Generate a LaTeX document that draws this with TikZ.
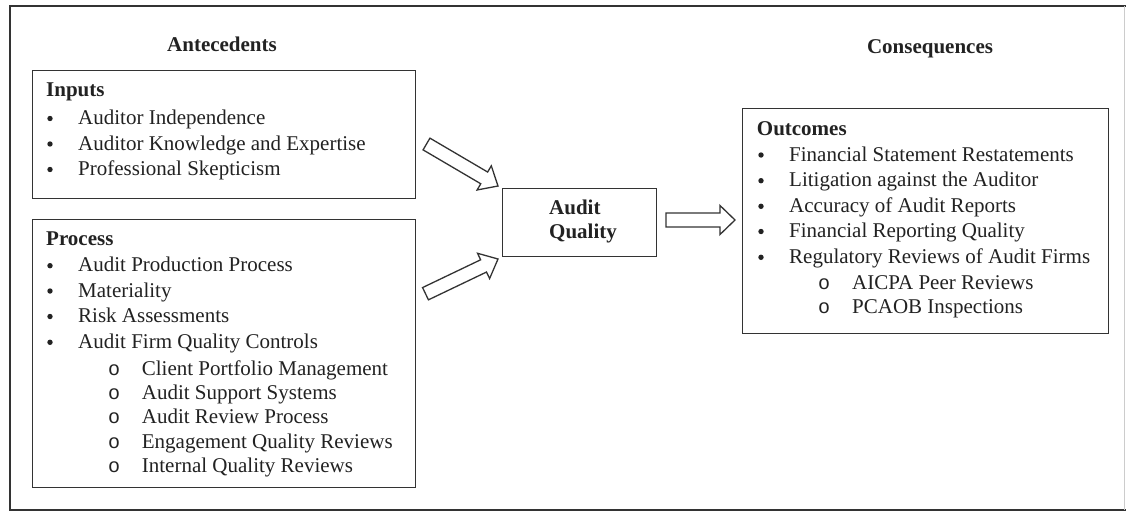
\documentclass[tikz,border=0pt]{standalone}
\usepackage{fontspec}
\setmainfont{Liberation Serif}
\newfontfamily\monof{Liberation Mono}
\usetikzlibrary{calc}
\definecolor{ink}{HTML}{222222}
\definecolor{frame}{HTML}{333333}
\newcommand\blockarr[5]{% tail, tip, shaft half, head half, head length
  \coordinate (H) at ($(#2)!#5!(#1)$);
  \draw[barrow] ($(#1)!#3!90:(#2)$) -- ($(H)!#3!90:(#2)$) -- ($(H)!#4!90:(#2)$) -- (#2)
     -- ($(H)!#4!-90:(#2)$) -- ($(H)!#3!-90:(#2)$) -- ($(#1)!#3!-90:(#2)$) -- cycle;}
\begin{document}
\begin{tikzpicture}[x=1pt,y=-1pt,
  txt/.style={anchor=base west, inner sep=0pt, font=\fontsize{21}{25}\selectfont, text=ink},
  hdr/.style={txt, font=\fontsize{21}{25}\selectfont\bfseries},
  subo/.style={anchor=base west, inner sep=0pt, font=\fontsize{20}{24}\monof, text=ink},
  box/.style={draw=frame, line width=1.3pt, anchor=north west, inner sep=0pt},
  barrow/.style={draw=frame, line width=1.3pt, fill=white, line join=miter},
  dot/.style={fill=ink}]
\useasboundingbox (0,0) rectangle (1126,512);
\fill[white] (0,0) rectangle (1126,512);
% outer frame
\draw[frame, line width=2.6pt] (1126,6) -- (10,6) -- (10,510) -- (1126,510);
\draw[gray!40, line width=0.8pt] (1124,6) -- (1124,510);
% headings
\node[hdr, anchor=base] (ante) at (222,51.7) {Antecedents};
\node[hdr, anchor=base] (cons) at (930,53) {Consequences};
% boxes
\node[box, minimum width=383pt, minimum height=128pt] (inputs) at (32,70) {};
\node[box, minimum width=383pt, minimum height=268pt] (process) at (32,219) {};
\node[box, minimum width=154pt, minimum height=68pt] (aq) at (502,188) {};
\node[box, minimum width=366pt, minimum height=225pt] (outc) at (742,108) {};
% Inputs
\node[hdr] (inT) at (46,96.7) {Inputs};
\foreach \t/\y [count=\i] in {Auditor Independence/124.5, Auditor Knowledge and Expertise/150, Professional Skepticism/175.5}{
  \node[txt] (in\i) at (78,\y) {\t};
  \fill[dot] (50,\y-6) circle (2.7);}
% Process
\node[hdr] (prT) at (46,245.7) {Process};
\foreach \t/\y [count=\i] in {Audit Production Process/271.7, Materiality/297, Risk Assessments/322.5, Audit Firm Quality Controls/348.3}{
  \node[txt] (pr\i) at (78,\y) {\t};
  \fill[dot] (50,\y-6) circle (2.7);}
\foreach \t/\y [count=\i] in {Client Portfolio Management/375, Audit Support Systems/399.4, Audit Review Process/423.8, Engagement Quality Reviews/448.2, Internal Quality Reviews/472.7}{
  \node[txt] (ps\i) at (141.7,\y) {\t};
  \node[subo] (po\i) at (108,\y) {o};}
% Audit Quality
\node[hdr] (aq1) at (549,214) {Audit};
\node[hdr] (aq2) at (549,238.5) {Quality};
% Outcomes
\node[hdr] (ouT) at (756.7,135) {Outcomes};
\foreach \t/\y [count=\i] in {Financial Statement Restatements/161, Litigation against the Auditor/186.7, Accuracy of Audit Reports/212.3, Financial Reporting Quality/237.5, Regulatory Reviews of Audit Firms/263.3}{
  \node[txt] (ou\i) at (789,\y) {\t};
  \fill[dot] (761,\y-6) circle (2.7);}
\foreach \t/\y [count=\i] in {AICPA Peer Reviews/289.3, PCAOB Inspections/313.5}{
  \node[txt] (os\i) at (852,\y) {\t};
  \node[subo] (oo\i) at (818,\y) {o};}
% arrows
\coordinate (a1s) at (426.5,144);
\coordinate (a1e) at (498,186);
\coordinate (a2s) at (425.5,293.7);
\coordinate (a2e) at (498,259);
\coordinate (a3s) at (666,220);
\coordinate (a3e) at (735,220);
\blockarr{a1s}{a1e}{6.8pt}{14pt}{16pt}
\blockarr{a2s}{a2e}{6.8pt}{14pt}{16pt}
\blockarr{a3s}{a3e}{7pt}{14.5pt}{15pt}
\end{tikzpicture}
\end{document}
